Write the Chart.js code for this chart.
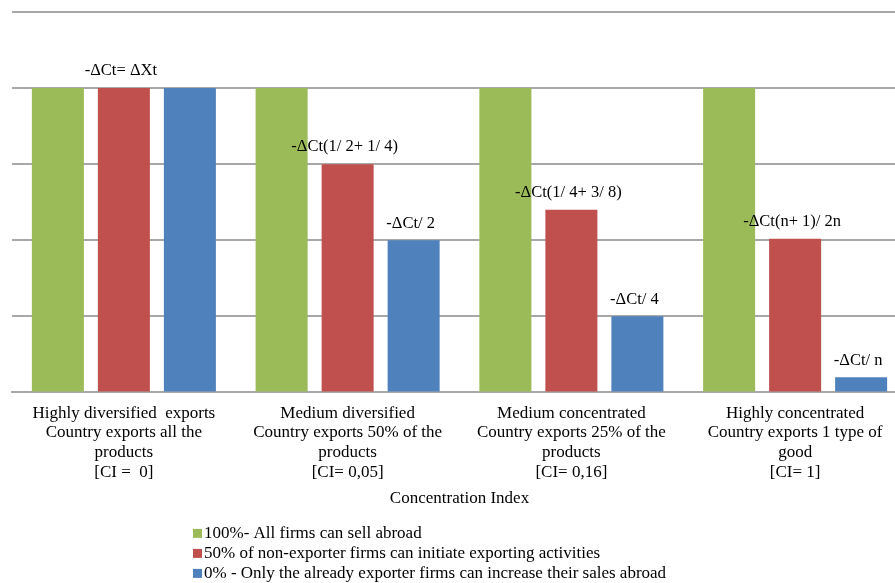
<!DOCTYPE html>
<html>
<head>
<meta charset="utf-8">
<script src="https://cdn.jsdelivr.net/npm/chart.js@4.4.0/dist/chart.umd.min.js"></script>
<style>
html,body{margin:0;padding:0;background:#fff;overflow:hidden;width:895px;height:583px;}
#wrap{position:absolute;left:0;top:0;width:920px;height:583px;}
</style>
</head>
<body>
<div id="wrap"><canvas id="c" width="920" height="583"></canvas></div>
<script>
const categories = [
  ["Highly diversified  exports", "Country exports all the", "products", "[CI =  0]"],
  ["Medium diversified", "Country exports 50% of the", "products", "[CI= 0,05]"],
  ["Medium concentrated", "Country exports 25% of the", "products", "[CI= 0,16]"],
  ["Highly concentrated", "Country exports 1 type of", "good", "[CI= 1]"]
];
const seriesNames = [
  "100%- All firms can sell abroad",
  "50% of non-exporter firms can initiate exporting activities",
  "0% - Only the already exporter firms can increase their sales abroad"
];
const allFirms = [1.0, 1.0, 1.0, 1.0];
const halfFirms = [1.0, 0.75, 0.60, 0.505];
const exportersOnly = [1.0, 0.5, 0.25, 0.05];
const allFirmsLabels = ["", "", "", ""];
const halfFirmsLabels = ["-\u0394Ct= \u0394Xt", "-\u0394Ct(1/ 2+ 1/ 4)", "-\u0394Ct(1/ 4+ 3/ 8)", "-\u0394Ct(n+ 1)/ 2n"];
const exportersOnlyLabels = ["", "-\u0394Ct/ 2", "-\u0394Ct/ 4", "-\u0394Ct/ n"];
const axisTitle = "Concentration Index";
const yMax = 1.25;
const yStep = 0.25;

const colors = ["#9BBB59", "#C0504D", "#4F81BD"];
const serif = "'Liberation Serif', 'Times New Roman', serif";

const barLabels = {
  id: 'barLabels',
  afterDatasetsDraw(chart) {
    const ctx = chart.ctx;
    ctx.save();
    ctx.font = "16.5px " + serif;
    ctx.fillStyle = "#000";
    ctx.textAlign = "center";
    ctx.textBaseline = "middle";
    chart.data.datasets.forEach((ds, i) => {
      const meta = chart.getDatasetMeta(i);
      meta.data.forEach((bar, j) => {
        const t = ds.valueLabels[j];
        if (t) ctx.fillText(t, bar.x - 3, bar.y - 17);
      });
    });
    ctx.restore();
  }
};

const customLegend = {
  id: 'customLegend',
  afterDraw(chart) {
    const ctx = chart.ctx;
    ctx.save();
    ctx.font = "17px " + serif;
    ctx.textBaseline = "middle";
    ctx.textAlign = "left";
    const x0 = 193, y0 = chart.chartArea.bottom + 141, dy = 20;
    chart.data.datasets.forEach((ds, i) => {
      const y = y0 + i * dy;
      ctx.fillStyle = ds.backgroundColor;
      ctx.fillRect(x0, y - 4.5, 9, 9);
      ctx.fillStyle = "#000";
      ctx.fillText(ds.label, x0 + 11, y);
    });
    ctx.restore();
  }
};

new Chart(document.getElementById('c'), {
  type: 'bar',
  data: {
    labels: categories,
    datasets: [
      {label: seriesNames[0], data: allFirms, backgroundColor: colors[0], valueLabels: allFirmsLabels},
      {label: seriesNames[1], data: halfFirms, backgroundColor: colors[1], valueLabels: halfFirmsLabels},
      {label: seriesNames[2], data: exportersOnly, backgroundColor: colors[2], valueLabels: exportersOnlyLabels}
    ]
  },
  options: {
    responsive: false,
    animation: false,
    devicePixelRatio: 1,
    layout: {padding: {left: 12, right: 13, top: 12, bottom: 75}},
    datasets: {bar: {categoryPercentage: 0.885, barPercentage: 0.788}},
    plugins: {
      legend: {display: false},
      tooltip: {enabled: false},
      title: {display: false}
    },
    scales: {
      x: {
        grid: {display: false, drawTicks: false},
        border: {display: true, color: "#a8a8a8", width: 2},
        ticks: {color: "#000", padding: 11, maxRotation: 0, autoSkip: false,
          font: {family: serif, size: 17, lineHeight: 1.16}},
        title: {display: true, text: axisTitle, color: "#000",
          font: {family: serif, size: 17, lineHeight: 1.16}, padding: {top: -5, bottom: 0}}
      },
      y: {
        min: 0, max: yMax,
        ticks: {display: false, stepSize: yStep},
        grid: {color: "#a8a8a8", lineWidth: 2, drawTicks: false},
        border: {display: false}
      }
    }
  },
  plugins: [barLabels, customLegend]
});
</script>
</body>
</html>
